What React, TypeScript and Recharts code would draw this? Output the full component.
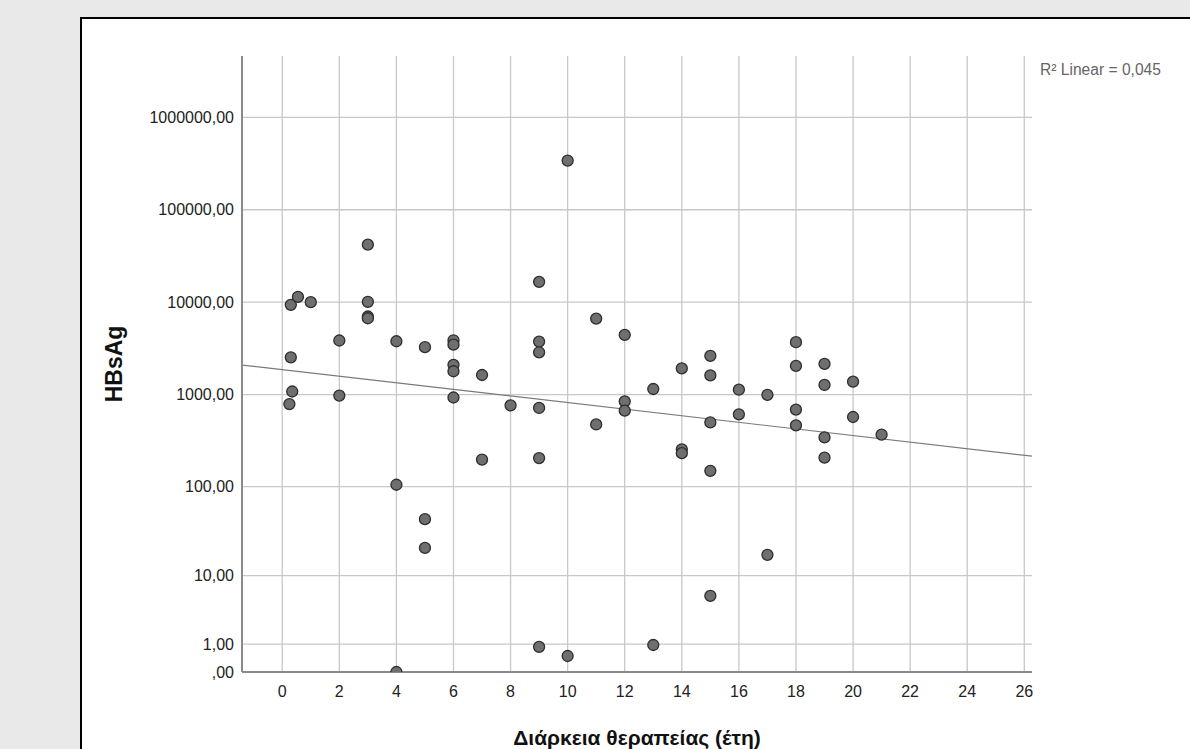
import React from "react";
import {
  CartesianGrid,
  Label,
  ReferenceLine,
  Scatter,
  ScatterChart,
  XAxis,
  YAxis,
} from "recharts";

// duration of therapy (years) and HBsAg value for each patient
const years = [
  0.3, 0.55, 1, 0.3, 0.35, 0.25,
  2, 2,
  3, 3, 3, 3,
  4, 4, 4,
  5, 5, 5,
  6, 6, 6, 6, 6,
  7, 7,
  8,
  9, 9, 9, 9, 9, 9,
  10, 10,
  11, 11,
  12, 12, 12,
  13, 13,
  14, 14, 14,
  15, 15, 15, 15, 15,
  16, 16,
  17, 17,
  18, 18, 18, 18,
  19, 19, 19, 19,
  20, 20,
  21,
];
const hbsag = [
  9370, 11400, 10000, 2530, 1080, 790,
  3850, 975,
  42000, 10100, 7000, 6700,
  3780, 105, 0,
  3260, 44, 21,
  3870, 3470, 2100, 1790, 930,
  1630, 197,
  765,
  16600, 3750, 2870, 717, 205, 0.87,
  340000, 0.49,
  6650, 475,
  4430, 846, 670,
  1150, 0.96,
  1925, 255, 232,
  2625, 1617, 500, 149, 5.65,
  1130, 611,
  993, 17.5,
  3690, 2045, 688, 465,
  2150, 1272, 344, 207,
  1382, 572,
  368,
];

const xTicks = [0, 2, 4, 6, 8, 10, 12, 14, 16, 18, 20, 22, 24, 26];
const yTickValues = [0, 1, 10, 100, 1000, 10000, 100000, 1000000];

// linear fit on the safe-log scale, R² = 0,045
const fitIntercept = 3.27;
const fitSlope = -0.0356;
const rSquaredText = "R² Linear = 0,045";

const X_MIN = -1.41;
const X_MAX = 26.27;
const Y_MAX = 6.663;

// SPSS "safe log": log10(v + 1)
const safeLog = (v: number) => Math.log10(v + 1);

const points = years.map((x, i) => ({ x, y: safeLog(hbsag[i]), value: hbsag[i] }));

const fmtY = (t: number) => {
  const v = Math.round(Math.pow(10, t) - 1);
  return v === 0 ? ",00" : `${v},00`;
};

const font = "'Liberation Sans', Arial, sans-serif";

const Dot = (props: any) => (
  <circle cx={props.cx} cy={props.cy} r={5.5} fill="#6f6f6f" stroke="#2e2e2e" strokeWidth={1.3} />
);

export default function App() {
  return (
    <div
      style={{
        position: "absolute",
        left: 0,
        top: 0,
        width: 1190,
        height: 749,
        background: "#e9e9e9",
        overflow: "hidden",
        fontFamily: font,
      }}
    >
      <div
        style={{
          position: "absolute",
          left: 80,
          top: 17,
          width: 1200,
          height: 800,
          background: "#fff",
          border: "2px solid #000",
        }}
      />
      <div style={{ position: "absolute", left: 0, top: 0 }}>
        <ScatterChart
          width={1190}
          height={749}
          margin={{ top: 56, right: 158, bottom: 0, left: 0 }}
        >
          <CartesianGrid stroke="#c8c8c8" strokeWidth={1.3} syncWithTicks />
          <XAxis
            type="number"
            dataKey="x"
            domain={[X_MIN, X_MAX]}
            ticks={xTicks}
            interval={0}
            allowDataOverflow
            height={77}
            tickLine={false}
            tickMargin={8}
            axisLine={{ stroke: "#8a8a8a", strokeWidth: 2 }}
            tick={{ fill: "#222", fontSize: 16, fontFamily: font }}
          >
            <Label
              value="Διάρκεια θεραπείας (έτη)"
              position="insideBottom"
              offset={4}
              style={{ fill: "#111", fontSize: 21, fontWeight: "bold", fontFamily: font }}
            />
          </XAxis>
          <YAxis
            type="number"
            dataKey="y"
            domain={[0, Y_MAX]}
            ticks={yTickValues.map(safeLog)}
            tickFormatter={fmtY}
            interval={0}
            allowDataOverflow
            width={242}
            tickLine={false}
            axisLine={{ stroke: "#8a8a8a", strokeWidth: 2 }}
            tick={{ fill: "#222", fontSize: 16, fontFamily: font }}
          >
            <Label
              value="HBsAg"
              angle={-90}
              position="center"
              dx={-7}
              style={{ fill: "#111", fontSize: 23, fontWeight: "bold", fontFamily: font, textAnchor: "middle" }}
            />
          </YAxis>
          <ReferenceLine
            segment={[
              { x: X_MIN, y: fitIntercept + fitSlope * X_MIN },
              { x: X_MAX, y: fitIntercept + fitSlope * X_MAX },
            ]}
            stroke="#7a7a7a"
            strokeWidth={1.2}
            ifOverflow="visible"
          />
          <Scatter data={points} shape={Dot} isAnimationActive={false} />
        </ScatterChart>
      </div>
      <div
        style={{
          position: "absolute",
          left: 1040,
          top: 61,
          fontSize: 15.6,
          color: "#666",
          whiteSpace: "nowrap",
        }}
      >
        {rSquaredText}
      </div>
    </div>
  );
}
